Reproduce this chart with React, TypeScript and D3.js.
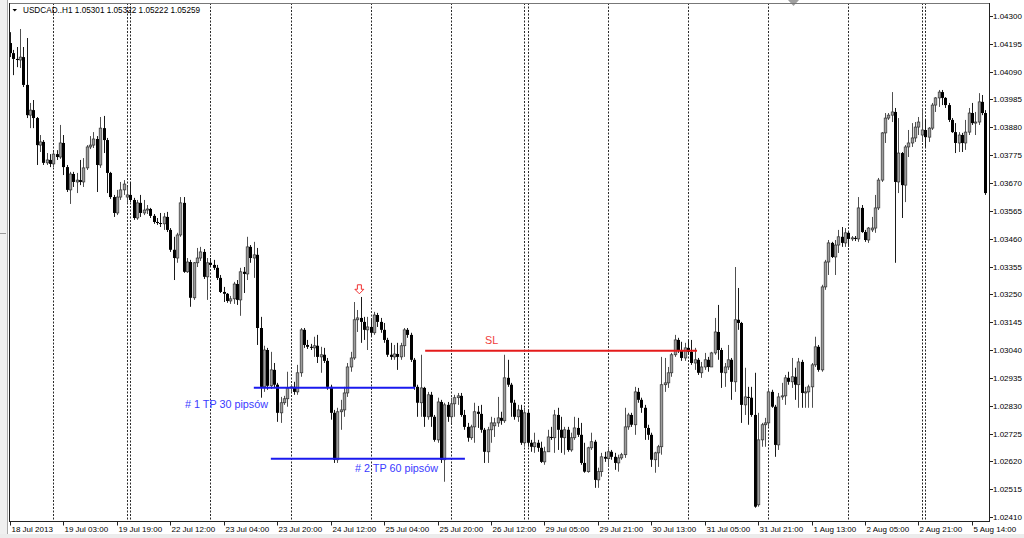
import React from 'react';
import * as d3 from 'd3';

// USDCAD H1 candles, 18 Jul 2013 11:00 .. 5 Aug 2013 18:00
const openP = [
1.04198,1.04160,1.04138,1.04134,1.04145,1.04040,1.03926,1.03945,1.03915,1.03813,
1.03825,1.03746,1.03757,1.03742,1.03779,1.03768,1.03821,1.03730,1.03644,1.03704,
1.03674,1.03681,1.03674,1.03727,1.03806,1.03813,1.03836,1.03738,1.03877,1.03832,
1.03708,1.03617,1.03557,1.03617,1.03644,1.03617,1.03625,1.03606,1.03538,1.03595,
1.03557,1.03568,1.03572,1.03546,1.03523,1.03519,1.03516,1.03542,1.03493,1.03418,
1.03387,1.03474,1.03595,1.03335,1.03372,1.03237,1.03369,1.03387,1.03410,1.03316,
1.03369,1.03361,1.03350,1.03312,1.03259,1.03252,1.03225,1.03233,1.03289,1.03229,
1.03335,1.03327,1.03429,1.03387,1.03399,1.03123,1.02901,1.03040,1.02905,1.02965,
1.02909,1.02803,1.02841,1.02856,1.02897,1.02901,1.02882,1.02954,1.03116,1.03059,
1.03052,1.03048,1.03056,1.03014,1.03022,1.02999,1.02901,1.02803,1.02626,1.02807,
1.02814,1.02878,1.02976,1.03010,1.03154,1.03161,1.03146,1.03116,1.03127,1.03105,
1.03172,1.03146,1.03116,1.03078,1.03022,1.03014,1.03025,1.03014,1.03056,1.03116,
1.03097,1.03003,1.02901,1.02841,1.02897,1.02788,1.02871,1.02788,1.02701,1.02844,
1.02626,1.02833,1.02788,1.02837,1.02860,1.02867,1.02795,1.02750,1.02709,1.02750,
1.02807,1.02799,1.02739,1.02656,1.02739,1.02754,1.02765,1.02784,1.02773,1.02935,
1.02909,1.02841,1.02788,1.02814,1.02690,1.02803,1.02690,1.02675,1.02690,1.02671,
1.02618,1.02656,1.02712,1.02709,1.02795,1.02739,1.02709,1.02739,1.02663,1.02709,
1.02746,1.02720,1.02614,1.02581,1.02671,1.02694,1.02550,1.02581,1.02637,1.02630,
1.02656,1.02637,1.02614,1.02633,1.02645,1.02750,1.02795,1.02758,1.02882,1.02852,
1.02822,1.02746,1.02720,1.02626,1.02652,1.02675,1.02909,1.02916,1.02954,1.03022,
1.03078,1.03040,1.03010,1.03048,1.03033,1.02991,1.03003,1.02954,1.02976,1.03003,
1.02976,1.03029,1.03108,1.03040,1.02954,1.02976,1.03003,1.02920,1.03154,1.03142,
1.02833,1.02863,1.02860,1.02795,1.02456,1.02701,1.02758,1.02765,1.02882,1.02826,
1.02682,1.02863,1.02867,1.02935,1.02920,1.02939,1.02909,1.02995,1.02878,1.02882,
1.02901,1.02984,1.03052,1.02965,1.03278,1.03372,1.03444,1.03391,1.03436,1.03467,
1.03444,1.03482,1.03459,1.03463,1.03459,1.03576,1.03485,1.03455,1.03493,1.03500,
1.03576,1.03681,1.03859,1.03915,1.03926,1.03938,1.03674,1.03783,1.03662,1.03806,
1.03821,1.03840,1.03881,1.03851,1.03870,1.03843,1.03877,1.03964,1.03991,1.04013,
1.03991,1.03964,1.03908,1.03862,1.03821,1.03851,1.03821,1.03862,1.03934,1.03896,
1.03900,1.03976,1.03934
];
const highP = [
1.04239,1.04172,1.04183,1.04251,1.04183,1.04217,1.03972,1.03983,1.03919,1.03851,
1.03832,1.03783,1.03779,1.03787,1.03794,1.03889,1.03851,1.03738,1.03712,1.03712,
1.03708,1.03757,1.03764,1.03813,1.03847,1.03862,1.03847,1.03919,1.03923,1.03840,
1.03712,1.03625,1.03644,1.03674,1.03681,1.03655,1.03674,1.03614,1.03606,1.03625,
1.03606,1.03587,1.03576,1.03553,1.03538,1.03557,1.03557,1.03561,1.03500,1.03467,
1.03482,1.03617,1.03617,1.03387,1.03380,1.03372,1.03425,1.03429,1.03421,1.03387,
1.03387,1.03380,1.03361,1.03323,1.03278,1.03255,1.03244,1.03297,1.03304,1.03350,
1.03353,1.03467,1.03436,1.03448,1.03425,1.03165,1.03056,1.03048,1.03033,1.02991,
1.02916,1.02863,1.02867,1.02958,1.02909,1.02920,1.02984,1.03123,1.03123,1.03078,
1.03063,1.03090,1.03097,1.03052,1.03048,1.03010,1.02909,1.02814,1.02822,1.02852,
1.02901,1.02991,1.03033,1.03221,1.03191,1.03240,1.03165,1.03165,1.03154,1.03184,
1.03180,1.03161,1.03142,1.03086,1.03067,1.03059,1.03067,1.03067,1.03123,1.03123,
1.03105,1.03010,1.02909,1.03022,1.02901,1.02882,1.02882,1.02795,1.02860,1.02852,
1.02841,1.02844,1.02860,1.02871,1.02878,1.02878,1.02814,1.02765,1.02758,1.02841,
1.02829,1.02833,1.02746,1.02750,1.02788,1.02784,1.02863,1.02807,1.03022,1.03003,
1.02916,1.02852,1.02833,1.02833,1.02822,1.02814,1.02701,1.02728,1.02701,1.02694,
1.02675,1.02739,1.02750,1.02814,1.02822,1.02788,1.02750,1.02750,1.02728,1.02788,
1.02784,1.02765,1.02690,1.02675,1.02728,1.02701,1.02596,1.02652,1.02656,1.02675,
1.02663,1.02652,1.02645,1.02652,1.02822,1.02803,1.02803,1.02901,1.02897,1.02860,
1.02833,1.02758,1.02728,1.02656,1.02682,1.03014,1.03010,1.02976,1.03029,1.03097,
1.03086,1.03071,1.03067,1.03078,1.03078,1.03048,1.03010,1.02995,1.03029,1.03014,
1.03033,1.03161,1.03210,1.03048,1.02991,1.03059,1.03010,1.03353,1.03274,1.03146,
1.02973,1.02901,1.02901,1.02954,1.02803,1.02765,1.02784,1.02897,1.02890,1.02833,
1.02878,1.02916,1.02946,1.02958,1.03010,1.02973,1.03010,1.03003,1.02901,1.02909,
1.02991,1.03090,1.03059,1.03286,1.03380,1.03455,1.03448,1.03455,1.03493,1.03504,
1.03500,1.03485,1.03470,1.03470,1.03617,1.03587,1.03493,1.03504,1.03542,1.03625,
1.03689,1.03862,1.03934,1.03934,1.04013,1.03953,1.03915,1.03787,1.03813,1.03870,
1.03896,1.03900,1.03919,1.03953,1.03908,1.03881,1.03972,1.03994,1.04021,1.04021,
1.03994,1.03972,1.03915,1.03896,1.03862,1.03859,1.03908,1.03953,1.03972,1.03938,
1.04009,1.04002,1.03945
];
const lowP = [
1.04145,1.04077,1.04107,1.04104,1.04032,1.03915,1.03877,1.03877,1.03738,1.03787,
1.03738,1.03738,1.03730,1.03730,1.03757,1.03761,1.03700,1.03636,1.03591,1.03655,
1.03632,1.03662,1.03655,1.03719,1.03798,1.03802,1.03636,1.03727,1.03783,1.03632,
1.03610,1.03542,1.03549,1.03606,1.03625,1.03595,1.03598,1.03531,1.03531,1.03542,
1.03549,1.03553,1.03538,1.03516,1.03512,1.03504,1.03493,1.03485,1.03410,1.03304,
1.03369,1.03467,1.03331,1.03331,1.03203,1.03229,1.03353,1.03376,1.03308,1.03229,
1.03353,1.03342,1.03304,1.03255,1.03221,1.03218,1.03214,1.03214,1.03210,1.03169,
1.03255,1.03304,1.03369,1.03312,1.03059,1.02860,1.02882,1.02890,1.02893,1.02897,
1.02769,1.02765,1.02833,1.02826,1.02882,1.02871,1.02871,1.02939,1.03048,1.03044,
1.03040,1.03014,1.02991,1.02954,1.02991,1.02890,1.02777,1.02614,1.02614,1.02739,
1.02788,1.02863,1.02958,1.03003,1.03108,1.03067,1.03078,1.03040,1.03090,1.03097,
1.03127,1.03105,1.03067,1.03014,1.03003,1.03003,1.02965,1.03003,1.03014,1.03086,
1.02995,1.02890,1.02788,1.02788,1.02750,1.02777,1.02750,1.02694,1.02690,1.02614,
1.02543,1.02769,1.02765,1.02788,1.02833,1.02788,1.02739,1.02694,1.02701,1.02690,
1.02746,1.02728,1.02614,1.02614,1.02690,1.02712,1.02750,1.02758,1.02765,1.02901,
1.02788,1.02777,1.02769,1.02682,1.02675,1.02675,1.02656,1.02652,1.02656,1.02614,
1.02607,1.02656,1.02701,1.02652,1.02663,1.02652,1.02645,1.02656,1.02656,1.02701,
1.02712,1.02607,1.02577,1.02577,1.02663,1.02520,1.02520,1.02562,1.02618,1.02599,
1.02626,1.02588,1.02581,1.02626,1.02633,1.02739,1.02750,1.02720,1.02841,1.02803,
1.02701,1.02701,1.02599,1.02577,1.02599,1.02645,1.02882,1.02897,1.02939,1.03014,
1.03029,1.02999,1.02999,1.03022,1.02984,1.02965,1.02946,1.02935,1.02965,1.02958,
1.02976,1.03022,1.03003,1.02897,1.02901,1.02965,1.02852,1.02882,1.03116,1.02765,
1.02795,1.02758,1.02788,1.02445,1.02449,1.02675,1.02675,1.02750,1.02822,1.02637,
1.02663,1.02852,1.02833,1.02909,1.02897,1.02852,1.02822,1.02822,1.02822,1.02822,
1.02822,1.02976,1.02958,1.02958,1.03267,1.03323,1.03387,1.03323,1.03406,1.03429,
1.03429,1.03429,1.03451,1.03451,1.03448,1.03482,1.03448,1.03444,1.03485,1.03482,
1.03568,1.03674,1.03821,1.03908,1.03900,1.03369,1.03632,1.03538,1.03598,1.03768,
1.03806,1.03825,1.03851,1.03825,1.03806,1.03825,1.03870,1.03938,1.03957,1.03964,
1.03953,1.03900,1.03859,1.03783,1.03787,1.03787,1.03795,1.03851,1.03889,1.03851,
1.03889,1.03926,1.03625
];
const closeP = [
1.04160,1.04138,1.04134,1.04145,1.04040,1.03926,1.03945,1.03915,1.03813,1.03825,
1.03746,1.03757,1.03742,1.03779,1.03768,1.03821,1.03730,1.03644,1.03704,1.03674,
1.03681,1.03674,1.03727,1.03806,1.03813,1.03836,1.03738,1.03877,1.03832,1.03708,
1.03617,1.03557,1.03617,1.03644,1.03666,1.03625,1.03606,1.03538,1.03595,1.03557,
1.03568,1.03572,1.03546,1.03523,1.03519,1.03516,1.03542,1.03493,1.03418,1.03387,
1.03474,1.03595,1.03335,1.03372,1.03237,1.03369,1.03387,1.03410,1.03316,1.03369,
1.03361,1.03350,1.03312,1.03259,1.03252,1.03225,1.03233,1.03289,1.03229,1.03335,
1.03327,1.03429,1.03387,1.03399,1.03123,1.02901,1.03040,1.02905,1.02965,1.02909,
1.02803,1.02841,1.02856,1.02897,1.02901,1.02882,1.02954,1.03116,1.03059,1.03052,
1.03048,1.03056,1.03014,1.03022,1.02999,1.02901,1.02803,1.02626,1.02807,1.02814,
1.02878,1.02976,1.03010,1.03154,1.03161,1.03146,1.03116,1.03127,1.03105,1.03172,
1.03146,1.03116,1.03078,1.03022,1.03014,1.03025,1.03014,1.03056,1.03116,1.03097,
1.03003,1.02901,1.02841,1.02897,1.02788,1.02871,1.02788,1.02701,1.02844,1.02626,
1.02833,1.02788,1.02837,1.02860,1.02867,1.02795,1.02750,1.02709,1.02750,1.02807,
1.02799,1.02739,1.02656,1.02739,1.02765,1.02765,1.02784,1.02773,1.02935,1.02909,
1.02841,1.02788,1.02814,1.02690,1.02803,1.02690,1.02675,1.02690,1.02671,1.02618,
1.02656,1.02712,1.02709,1.02795,1.02739,1.02709,1.02739,1.02663,1.02709,1.02746,
1.02720,1.02614,1.02581,1.02671,1.02694,1.02550,1.02581,1.02637,1.02630,1.02656,
1.02637,1.02614,1.02633,1.02645,1.02750,1.02795,1.02758,1.02882,1.02852,1.02822,
1.02746,1.02720,1.02626,1.02652,1.02675,1.02909,1.02916,1.02954,1.03022,1.03078,
1.03040,1.03010,1.03048,1.03033,1.02991,1.03003,1.02954,1.02976,1.03003,1.02976,
1.03029,1.03108,1.03040,1.02954,1.02976,1.03003,1.02920,1.03154,1.03142,1.02833,
1.02863,1.02860,1.02795,1.02449,1.02701,1.02758,1.02765,1.02882,1.02826,1.02682,
1.02863,1.02867,1.02935,1.02920,1.02939,1.02909,1.02995,1.02878,1.02882,1.02901,
1.02984,1.03052,1.02965,1.03278,1.03372,1.03444,1.03391,1.03436,1.03467,1.03444,
1.03482,1.03459,1.03463,1.03459,1.03576,1.03485,1.03455,1.03500,1.03500,1.03576,
1.03681,1.03859,1.03915,1.03926,1.03938,1.03674,1.03783,1.03662,1.03806,1.03821,
1.03840,1.03881,1.03900,1.03870,1.03843,1.03877,1.03964,1.03991,1.04013,1.03991,
1.03964,1.03908,1.03862,1.03821,1.03851,1.03821,1.03862,1.03934,1.03896,1.03900,
1.03976,1.03934,1.03632
];

// trading sessions (date, first hour, last hour) -> one bar per hour
const sessions: [string, number, number][] = [
  ['18 Jul', 11, 23], ['19 Jul', 0, 21], ['21 Jul', 23, 23], ['22 Jul', 0, 23],
  ['23 Jul', 0, 23], ['24 Jul', 0, 23], ['25 Jul', 0, 23], ['26 Jul', 0, 21],
  ['28 Jul', 23, 23], ['29 Jul', 0, 23], ['30 Jul', 0, 23], ['31 Jul', 0, 23],
  ['1 Aug', 0, 23], ['2 Aug', 0, 21], ['4 Aug', 23, 23], ['5 Aug', 0, 18],
];

const timeLabels = [
  '18 Jul 2013', '19 Jul 03:00', '19 Jul 19:00', '22 Jul 12:00', '23 Jul 04:00',
  '23 Jul 20:00', '24 Jul 12:00', '25 Jul 04:00', '25 Jul 20:00', '26 Jul 12:00',
  '29 Jul 05:00', '29 Jul 21:00', '30 Jul 13:00', '31 Jul 05:00', '31 Jul 21:00',
  '1 Aug 13:00', '2 Aug 05:00', '2 Aug 21:00', '5 Aug 14:00',
];
const labelStep = 16;

const priceTicks = [
  '1.04300', '1.04195', '1.04090', '1.03985', '1.03880', '1.03775', '1.03670',
  '1.03565', '1.03460', '1.03355', '1.03250', '1.03145', '1.03040', '1.02935',
  '1.02830', '1.02725', '1.02620', '1.02515', '1.02410',
];

const headerText = 'USDCAD..H1  1.05301 1.05322 1.05222 1.05259';

// trade levels: price and bar span
const slLevel = { price: 1.03037, from: 124.3, to: 205.7 };
const tp1Level = { price: 1.02898, from: 73.0, to: 121.3 };
const tp2Level = { price: 1.02630, from: 78.1, to: 136.2 };
const texts = [
  { text: 'SL', bar: 142.2, price: 1.03063, color: '#f03c3c' },
  { text: '# 1 TP 30 pipsów', bar: 52.4, price: 1.02820, color: '#3a3aff' },
  { text: '# 2 TP 60 pipsów', bar: 103.3, price: 1.02579, color: '#3a3aff' },
];
const sellArrow = { bar: 104.6, price: 1.03286 };

const W = 1024;
const H = 538;

export default function App() {
  const n = openP.length;
  const bars: { day: string; hour: number; sep: boolean }[] = [];
  sessions.forEach(([day, h0, h1], si) => {
    for (let h = h0; h <= h1; h++) bars.push({ day, hour: h, sep: si > 0 && h === h0 });
  });

  const x = d3.scaleLinear().domain([0, n - 1]).range([10, 10 + 3.34 * (n - 1)]);
  const y = d3.scaleLinear().domain([1.0241, 1.043]).range([517, 16]);

  const left = 9, top = 3, right = 989, bottom = 521.5;
  const font = "'Liberation Sans', Arial, sans-serif";

  const seps = bars.map((b, i) => (b.sep ? i : -1)).filter((i) => i >= 0);

  const candles = d3.range(n).map((i) => {
    const o = openP[i], c = closeP[i], hi = highP[i], lo = lowP[i];
    const cx = Math.round(x(i));
    const bull = c >= o;
    const yt = y(Math.max(o, c));
    const yb = y(Math.min(o, c));
    return (
      <g key={i}>
        <line x1={cx + 0.5} x2={cx + 0.5} y1={y(hi)} y2={y(lo)} stroke={bull ? '#505050' : '#1a1a1a'} strokeWidth={1} />
        {bull ? (
          <rect x={cx - 0.8} y={yt} width={2.6} height={Math.max(0.8, yb - yt)} fill="#9c9c9c" stroke="#333" strokeWidth={0.7} />
        ) : (
          <rect x={cx - 1} y={yt} width={3} height={Math.max(1, yb - yt)} fill="#000" />
        )}
      </g>
    );
  });

  const levelLine = (lv: { price: number; from: number; to: number }, color: string, key: string) => (
    <line key={key} x1={x(lv.from)} x2={x(lv.to)} y1={y(lv.price)} y2={y(lv.price)} stroke={color} strokeWidth={2} />
  );

  const ax = x(sellArrow.bar);
  const ay = y(sellArrow.price);
  const arrowPath = `M${ax - 2},${ay} L${ax + 2},${ay} L${ax + 2},${ay + 4.5} L${ax + 4.5},${ay + 4.5} L${ax},${ay + 9} L${ax - 4.5},${ay + 4.5} L${ax - 2},${ay + 4.5} Z`;

  return (
    <svg width={W} height={H} style={{ position: 'fixed', left: 0, top: 0, background: '#fff' }} fontFamily={font}>
      <defs>
        <clipPath id="plot">
          <rect x={left} y={top} width={right - left} height={bottom - top} />
        </clipPath>
      </defs>
      <rect x={0} y={0} width={W} height={H} fill="#fff" />
      <rect x={0} y={0} width={7} height={H} fill="#f0f0f0" />
      <line x1={7.5} x2={7.5} y1={0} y2={535} stroke="#a8a8a8" />
      <line x1={0} x2={6} y1={233.5} y2={233.5} stroke="#9a9a9a" />
      <rect x={0} y={534} width={W} height={4} fill="#ececec" />

      {/* day separators */}
      <g clipPath="url(#plot)">
        {seps.map((i) => (
          <line key={i} x1={Math.round(x(i)) + 0.5} x2={Math.round(x(i)) + 0.5} y1={top} y2={bottom} stroke="#2a2a2a" strokeWidth={1} strokeDasharray="2,1.5" />
        ))}
      </g>

      <g clipPath="url(#plot)">{candles}</g>

      {levelLine(slLevel, '#e41b1b', 'sl')}
      {levelLine(tp1Level, '#1a1aee', 'tp1')}
      {levelLine(tp2Level, '#1a1aee', 'tp2')}

      {texts.map((t) => (
        <text key={t.text} x={x(t.bar)} y={y(t.price)} fill={t.color} fontSize={10.8}>{t.text}</text>
      ))}

      <path d={arrowPath} fill="#fff" stroke="#f03030" strokeWidth={1} />

      {/* header */}
      <path d="M12.5,9 L17,9 L14.75,11.5 Z" fill="#000" />
      <text x={23} y={12.5} fontSize={8.2} fill="#000">{headerText}</text>
      <path d="M788,0 L799,0 L793.5,6 Z" fill="#a0a0a0" />

      {/* frame */}
      <line x1={left} x2={right} y1={top + 0.5} y2={top + 0.5} stroke="#777" />
      <line x1={left + 0.5} x2={left + 0.5} y1={top} y2={bottom} stroke="#222" />
      <line x1={right + 0.5} x2={right + 0.5} y1={top} y2={bottom} stroke="#222" />
      <line x1={left} x2={right + 1} y1={bottom} y2={bottom} stroke="#222" />

      {/* price axis */}
      {priceTicks.map((p) => {
        const yy = Math.round(y(+p)) + 0.5;
        return (
          <g key={p}>
            <line x1={right + 1} x2={right + 4} y1={yy} y2={yy} stroke="#222" />
            <text x={993} y={yy} dy="0.35em" fontSize={8} fill="#000">{p}</text>
          </g>
        );
      })}

      {/* time axis */}
      {timeLabels.map((t, k) => {
        const xx = Math.round(x(k * labelStep)) + 0.5;
        return (
          <g key={t}>
            <line x1={xx} x2={xx} y1={bottom} y2={bottom + 4} stroke="#222" />
            <text x={xx + 1} y={532} fontSize={8} fill="#000">{t}</text>
          </g>
        );
      })}
    </svg>
  );
}
